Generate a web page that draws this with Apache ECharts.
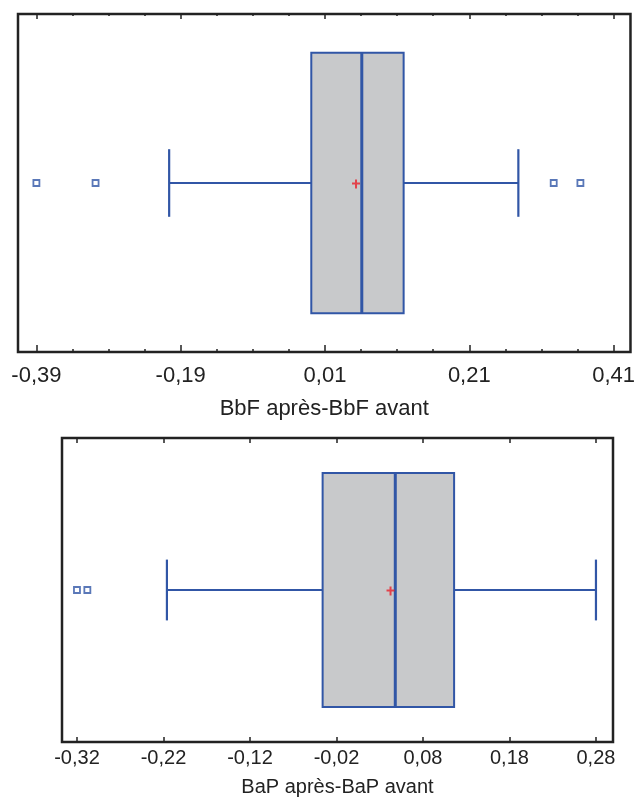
<!DOCTYPE html>
<html>
<head>
<meta charset="utf-8">
<title>Boîtes à moustaches BbF / BaP</title>
<script src="https://cdn.jsdelivr.net/npm/echarts@6/dist/echarts.min.js"></script>
<style>
  html, body { margin: 0; padding: 0; background: #fff; }
  #chart { width: 638px; height: 798px; }
</style>
</head>
<body>
<div id="chart"></div>
<script>
// BbF (graphique du haut) : moustache basse, Q1, médiane, Q3, moustache haute
var bbfStats = [-0.206, -0.009, 0.061, 0.119, 0.278];
var bbfOutliers = [-0.39, -0.308, 0.327, 0.364];
var bbfMean = 0.053;
var bbfTicks = [-0.39, -0.19, 0.01, 0.21, 0.41];
var bbfMinorTicks = [-0.34, -0.29, -0.24, -0.14, -0.09, -0.04, 0.06, 0.11, 0.16, 0.26, 0.31, 0.36];

// BaP (graphique du bas)
var bapStats = [-0.216, -0.036, 0.048, 0.116, 0.28];
var bapOutliers = [-0.32, -0.308];
var bapMean = 0.0425;
var bapTicks = [-0.32, -0.22, -0.12, -0.02, 0.08, 0.18, 0.28];

var BLUE = '#3156a6';
var GRAY = '#c8c9cb';
var RED = '#e8202a';
var INK = '#222';
var FONT = '"Liberation Sans", Arial, sans-serif';

function fmt(v) {
    return v.toFixed(2).replace('.', ',');
}

// boîte + moustaches, dessinées avec les échelles des axes
function renderBox(params, api) {
    var y = api.value(0);
    var band = api.size([0, 1])[1];
    var lo = api.coord([api.value(1), y]);
    var q1 = api.coord([api.value(2), y]);
    var med = api.coord([api.value(3), y]);
    var q3 = api.coord([api.value(4), y]);
    var hi = api.coord([api.value(5), y]);
    var cy = lo[1];
    var hb = band * 0.385;
    var hc = band * 0.1;
    var thin = { stroke: BLUE, lineWidth: 2.2, fill: null };
    return {
        type: 'group',
        children: [
            { type: 'line', shape: { x1: lo[0], y1: cy, x2: q1[0], y2: cy }, style: thin },
            { type: 'line', shape: { x1: q3[0], y1: cy, x2: hi[0], y2: cy }, style: thin },
            { type: 'line', shape: { x1: lo[0], y1: cy - hc, x2: lo[0], y2: cy + hc }, style: thin },
            { type: 'line', shape: { x1: hi[0], y1: cy - hc, x2: hi[0], y2: cy + hc }, style: thin },
            { type: 'rect', shape: { x: q1[0], y: cy - hb, width: q3[0] - q1[0], height: 2 * hb },
              style: { fill: GRAY, stroke: BLUE, lineWidth: 2 } },
            { type: 'line', shape: { x1: med[0], y1: cy - hb, x2: med[0], y2: cy + hb },
              style: { stroke: BLUE, lineWidth: 3 } }
        ]
    };
}

function tickAxis(grid, min, max, pos, values, len) {
    return {
        type: 'value', gridIndex: grid, position: pos, min: min, max: max,
        axisLine: { show: false },
        splitLine: { show: false },
        axisLabel: { show: false },
        axisTick: { show: true, inside: true, length: len, customValues: values,
                    lineStyle: { color: INK, width: 1.5 } }
    };
}

var topMin = -0.4155, topMax = 0.4334;
var botMin = -0.3373, botMax = 0.2997;

var meanSymbol = 'path://M3,0 H5 V3 H8 V5 H5 V9 H3 V5 H0 V3 H3 Z';

var chart = echarts.init(document.getElementById('chart'));

chart.setOption({
    animation: false,
    backgroundColor: '#fff',
    textStyle: { fontFamily: FONT },
    grid: [
        { left: 18, right: 4, top: 14, bottom: 446, show: true,
          borderColor: INK, borderWidth: 2.5, backgroundColor: '#fff' },
        { left: 62, right: 25, top: 438, bottom: 56, show: true,
          borderColor: INK, borderWidth: 2.5, backgroundColor: '#fff' }
    ],
    xAxis: [
        {
            type: 'value', gridIndex: 0, position: 'bottom', min: topMin, max: topMax,
            name: 'BbF après-BbF avant', nameLocation: 'middle', nameGap: 46,
            nameTextStyle: { fontSize: 22, color: INK, fontFamily: FONT },
            axisLine: { show: false },
            splitLine: { show: false },
            axisTick: { show: true, inside: true, length: 7, customValues: bbfTicks,
                        lineStyle: { color: INK, width: 1.5 } },
            axisLabel: { customValues: bbfTicks, formatter: fmt, margin: 13,
                         fontSize: 22, color: INK, fontFamily: FONT }
        },
        tickAxis(0, topMin, topMax, 'bottom', bbfMinorTicks, 3),
        tickAxis(0, topMin, topMax, 'top', bbfTicks, 5),
        tickAxis(0, topMin, topMax, 'top', bbfMinorTicks, 2),
        {
            type: 'value', gridIndex: 1, position: 'bottom', min: botMin, max: botMax,
            name: 'BaP après-BaP avant', nameLocation: 'middle', nameGap: 35,
            nameTextStyle: { fontSize: 20, color: INK, fontFamily: FONT },
            axisLine: { show: false },
            splitLine: { show: false },
            axisTick: { show: true, inside: true, length: 5, customValues: bapTicks,
                        lineStyle: { color: INK, width: 1.5 } },
            axisLabel: { customValues: bapTicks, formatter: fmt, margin: 6,
                         fontSize: 20, color: INK, fontFamily: FONT }
        },
        tickAxis(1, botMin, botMax, 'top', bapTicks, 5)
    ],
    yAxis: [
        { type: 'category', gridIndex: 0, data: ['BbF'], show: false },
        { type: 'category', gridIndex: 1, data: ['BaP'], show: false }
    ],
    series: [
        {
            type: 'custom', xAxisIndex: 0, yAxisIndex: 0,
            renderItem: renderBox,
            encode: { x: [1, 2, 3, 4, 5], y: 0 },
            data: [[0].concat(bbfStats)]
        },
        {
            type: 'scatter', xAxisIndex: 0, yAxisIndex: 0,
            symbol: 'rect', symbolSize: 6,
            itemStyle: { color: '#fff', borderColor: BLUE, borderWidth: 1.8 },
            data: bbfOutliers.map(function (v) { return [v, 0]; })
        },
        {
            type: 'scatter', xAxisIndex: 0, yAxisIndex: 0, z: 5,
            symbol: meanSymbol, symbolSize: [8, 9], symbolOffset: [0, 1],
            itemStyle: { color: RED },
            data: [[bbfMean, 0]]
        },
        {
            type: 'custom', xAxisIndex: 4, yAxisIndex: 1,
            renderItem: renderBox,
            encode: { x: [1, 2, 3, 4, 5], y: 0 },
            data: [[0].concat(bapStats)]
        },
        {
            type: 'scatter', xAxisIndex: 4, yAxisIndex: 1,
            symbol: 'rect', symbolSize: 6,
            itemStyle: { color: '#fff', borderColor: BLUE, borderWidth: 1.8 },
            data: bapOutliers.map(function (v) { return [v, 0]; })
        },
        {
            type: 'scatter', xAxisIndex: 4, yAxisIndex: 1, z: 5,
            symbol: meanSymbol, symbolSize: [8, 9], symbolOffset: [0, 1],
            itemStyle: { color: RED },
            data: [[bapMean, 0]]
        }
    ]
});
</script>
</body>
</html>
